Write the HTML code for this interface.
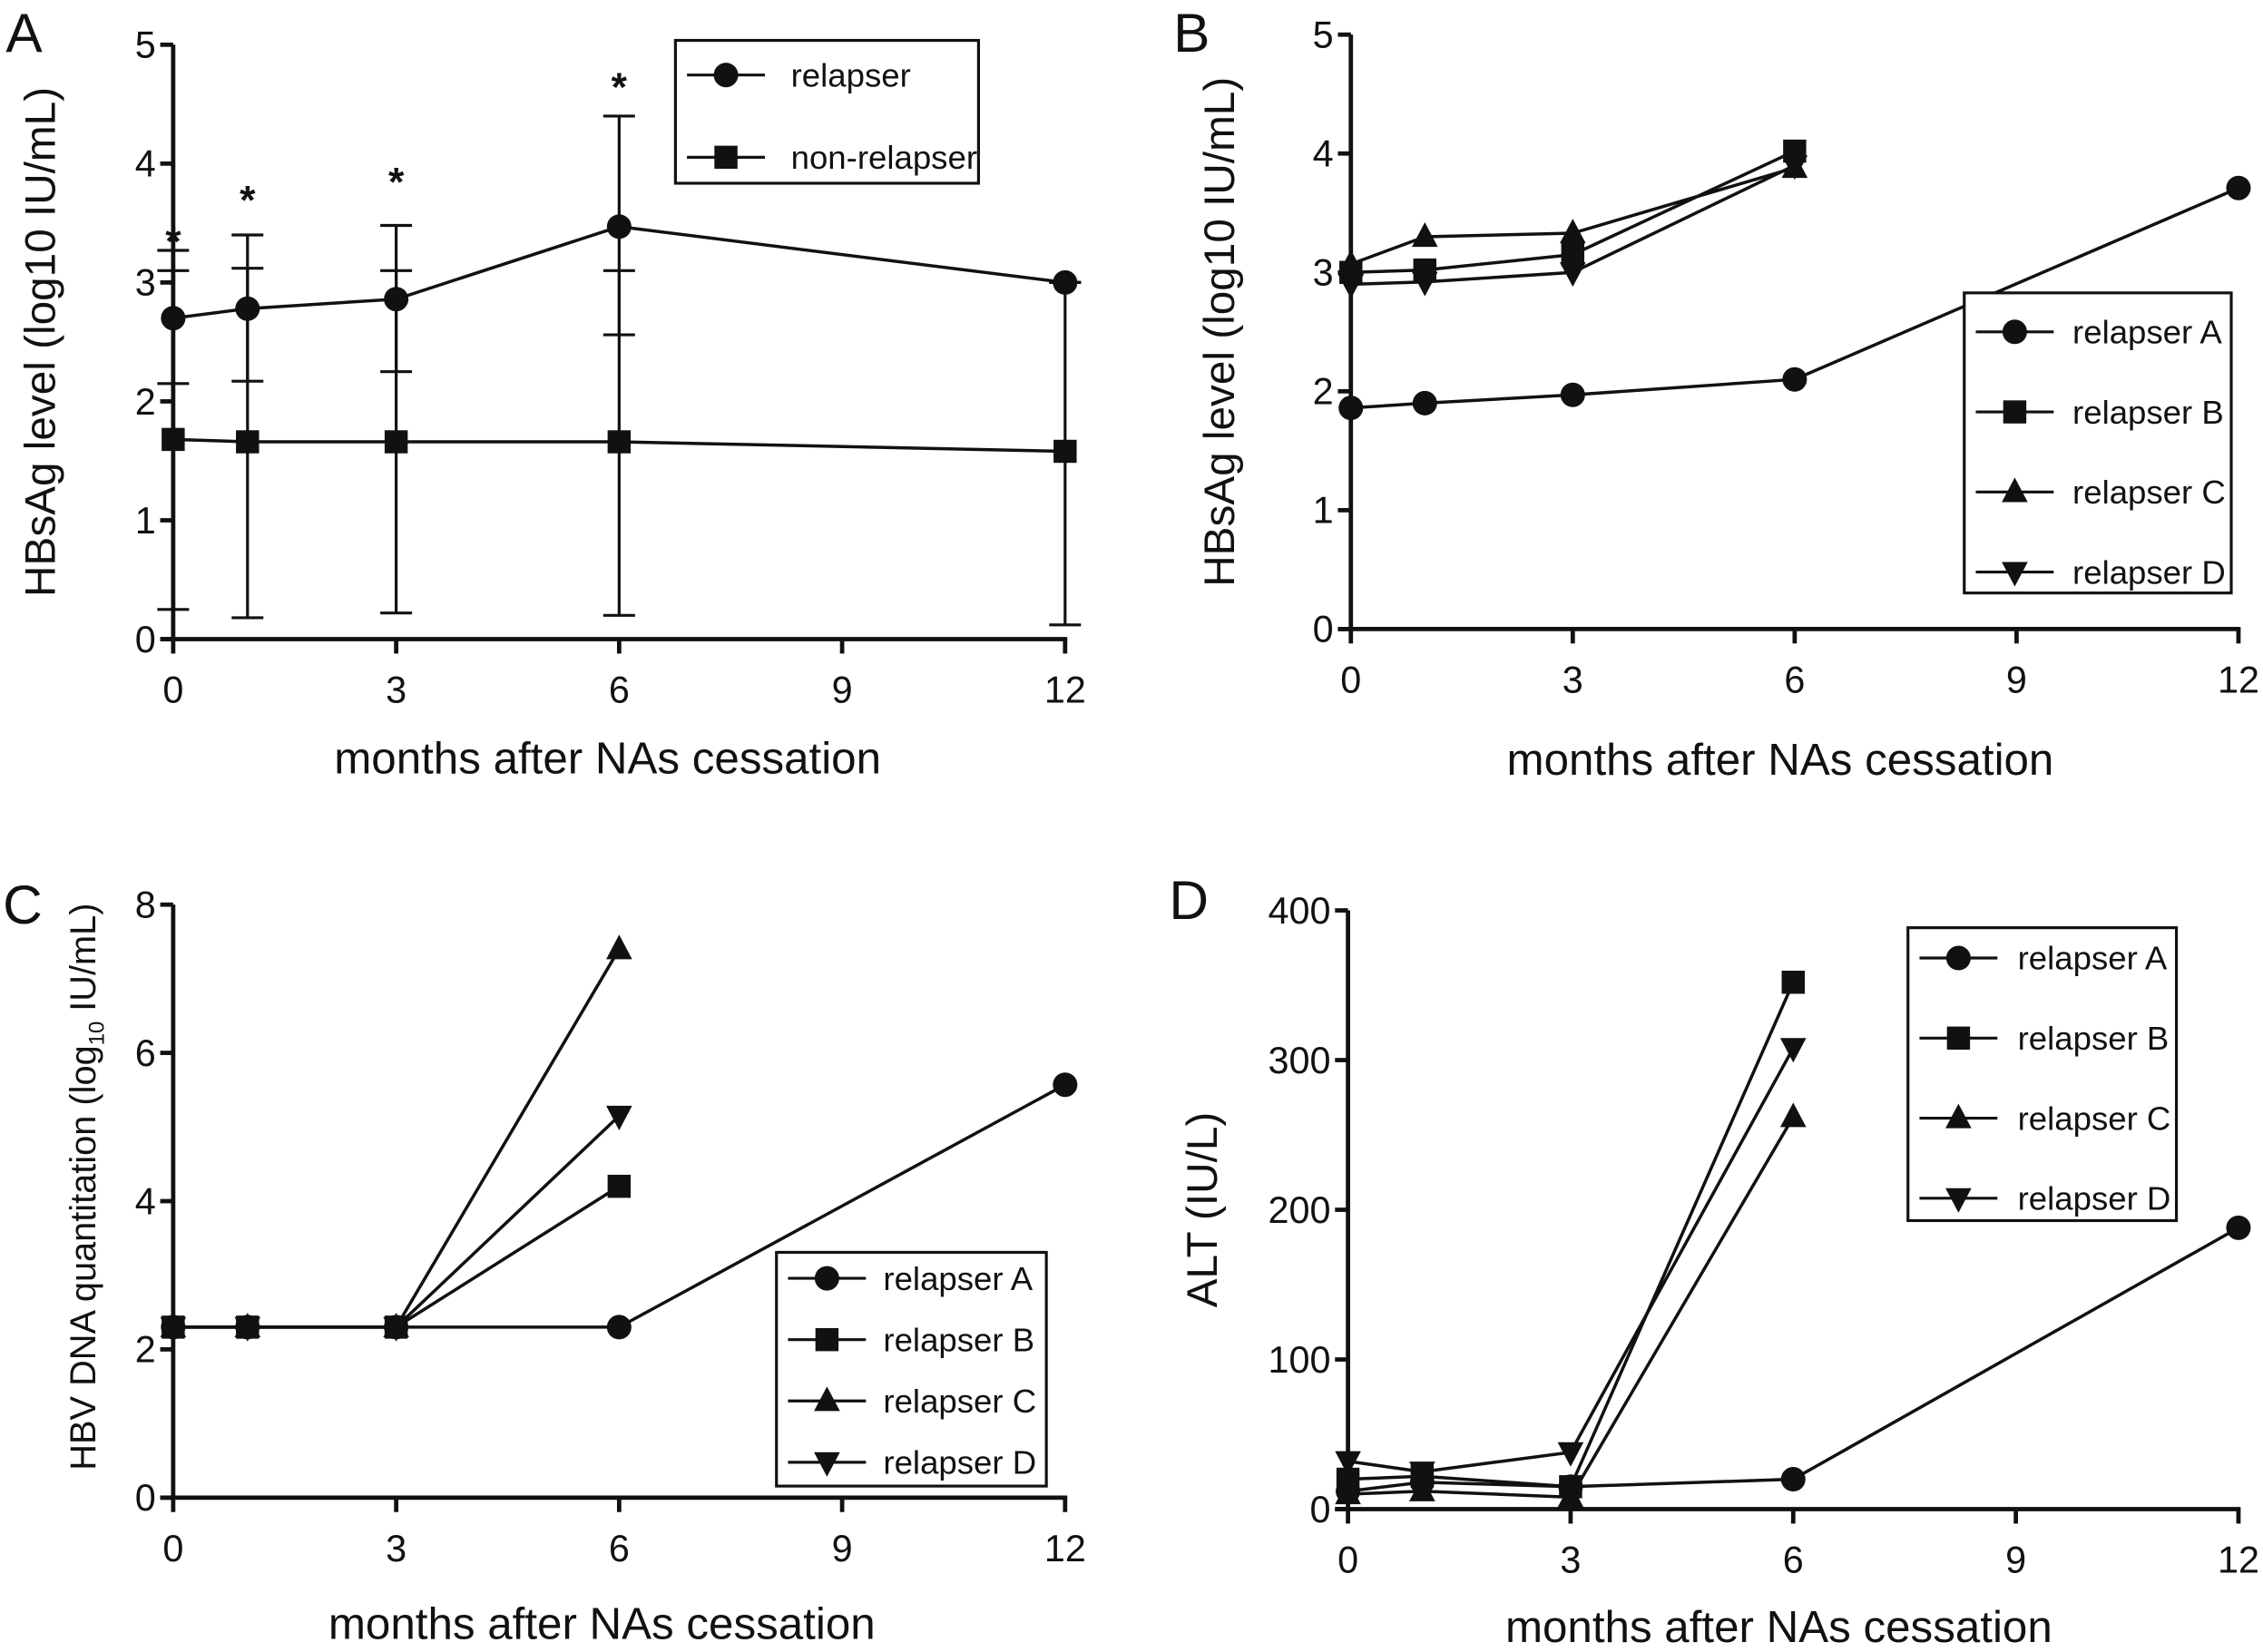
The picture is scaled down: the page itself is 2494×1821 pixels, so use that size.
<!DOCTYPE html>
<html><head><meta charset="utf-8">
<style>
html,body{margin:0;padding:0;background:#fff;}
svg{display:block;}
text{font-family:"Liberation Sans Narrow","Liberation Sans",sans-serif;fill:#111;}
.title{font-family:"Liberation Sans",sans-serif;}
</style></head>
<body>
<svg id="fig" width="2494" height="1821" viewBox="0 0 1568 1145" preserveAspectRatio="none" xmlns="http://www.w3.org/2000/svg"></svg>
<script>
// ---- Data ----
const xTicks = [0,3,6,9,12];
// Panel A
const aMonths = [0,1,3,6,12];
const aRelapser = [2.7,2.78,2.86,3.47,3.0];
const aRelHi = [3.27,3.4,3.48,4.4,3.0];
const aRelLo = [2.15,2.17,2.25,2.56,3.0];
const aNon = [1.68,1.66,1.66,1.66,1.58];
const aNonHi = [3.1,3.12,3.1,3.1,3.0];
const aNonLo = [0.25,0.18,0.22,0.2,0.12];
const aStars = [3.4,3.75,3.9,4.7];
const aTicks = [0,1,2,3,4,5];
// Panel B
const bMonthsA = [0,1,3,6,12];
const bA = [1.86,1.9,1.97,2.1,3.71];
const bMonths = [0,1,3,6];
const bB = [3.0,3.02,3.15,4.02];
const bC = [3.07,3.3,3.33,3.88];
const bD = [2.9,2.92,3.0,3.9];
const bTicks = [0,1,2,3,4,5];
// Panel C
const cMonthsA = [0,1,3,6,12];
const cA = [2.3,2.3,2.3,2.3,5.57];
const cMonths = [0,1,3,6];
const cB = [2.3,2.3,2.3,4.2];
const cC = [2.3,2.3,2.3,7.4];
const cD = [2.3,2.3,2.3,5.15];
const cTicks = [0,2,4,6,8];
// Panel D
const dMonthsA = [0,1,3,6,12];
const dA = [12,18,15,20,188];
const dMonths = [0,1,3,6];
const dB = [20,22,15,352];
const dC = [10,12,8,262];
const dD = [32,25,38,308];
const dTicks = [0,100,200,300,400];

const NS="http://www.w3.org/2000/svg";
const svg=document.getElementById('fig');
function el(tag,attrs,parent){const e=document.createElementNS(NS,tag);for(const k in attrs)e.setAttribute(k,attrs[k]);(parent||svg).appendChild(e);return e;}

function makeAxes(p){
  p.sx=v=>p.x0+(v-0)*(p.x12-p.x0)/12;
  p.sy=v=>p.y0-(v-p.ymin)*(p.y0-p.ytop)/(p.ymax-p.ymin);
  const g=el('g',{});
  
  
  el('line',{x1:p.x0,y1:p.y0,x2:p.x0,y2:p.ytop,stroke:'#111','stroke-width':3},g);
  el('line',{x1:p.x0-9,y1:p.y0,x2:p.x12+1.5,y2:p.y0,stroke:'#111','stroke-width':3},g);
  p.yt.forEach(v=>{
    el('line',{x1:p.x0-9,y1:p.sy(v),x2:p.x0,y2:p.sy(v),stroke:'#111','stroke-width':3},g);
    const t=el('text',{x:p.x0-12,y:p.sy(v)+9,'font-size':26,'text-anchor':'end'},g);t.textContent=v;
    
    
  });
  xTicks.forEach(v=>{
    el('line',{x1:p.sx(v),y1:p.y0,x2:p.sx(v),y2:p.y0+10,stroke:'#111','stroke-width':3},g);
    const t=el('text',{x:p.sx(v),y:p.y0+44,'font-size':26,'text-anchor':'middle'},g);t.textContent=v;
    
    
  });
  const xt=el('text',{x:(p.x0+p.x12)/2+p.xto,y:p.y0+p.xty,'font-size':31,'text-anchor':'middle'},g);
  xt.textContent='months after NAs cessation';
  
  
  const yt=el('text',{x:0,y:0,'font-size':p.ytf||30,'text-anchor':'middle',class:'title',transform:`translate(${p.ytx},${(p.y0+p.ytop)/2+(p.yto||0)}) rotate(-90)`},g);
  if(p.ytitleHtml){yt.innerHTML=p.ytitleHtml;}else yt.textContent=p.ytitle;
  
  
  const L=el('text',{x:p.lx,y:p.ly,'font-size':38,class:'title'},g);L.textContent=p.letter;
  
  
}
function marker(type,x,y,g){
  let m;
  if(type==='circle') m=el('circle',{cx:x,cy:y,r:8.5,fill:'#111'},g);
  else if(type==='square') m=el('rect',{x:x-8,y:y-8,width:16,height:16,fill:'#111'},g);
  else if(type==='up') m=el('polygon',{points:`${x},${y-10} ${x-9},${y+7} ${x+9},${y+7}`,fill:'#111'},g);
  else m=el('polygon',{points:`${x},${y+10} ${x-9},${y-7} ${x+9},${y-7}`,fill:'#111'},g);
  
  
}
function series(p,xs,ys,type,name){
  const g=el('g',{});
  
  
  el('polyline',{points:xs.map((x,i)=>p.sx(x)+','+p.sy(ys[i])).join(' '),fill:'none',stroke:'#111','stroke-width':2.2},g);
  xs.forEach((x,i)=>marker(type,p.sx(x),p.sy(ys[i]),g));
}
function legend(p,box,items,gap,tx){
  const g=el('g',{});
  
  
  el('rect',{x:box[0],y:box[1],width:box[2]-box[0],height:box[3]-box[1],fill:'#fff',stroke:'#111','stroke-width':2},g);
  items.forEach((it,i)=>{
    const y=box[1]+box[4]+i*gap;
    const e=el('g',{},g);
    
    
    el('line',{x1:box[0]+8,y1:y,x2:box[0]+62,y2:y,stroke:'#111','stroke-width':2},e);
    marker(it[0],box[0]+35,y,e);
    const t=el('text',{x:box[0]+tx,y:y+8,'font-size':23},e);t.textContent=it[1];
  });
}

// Panel A
const pA={id:'panel-a',x0:120,x12:738,y0:443,ytop:31,ymin:0,ymax:5,yt:aTicks,ytitle:'HBsAg level (log10 IU/mL)',ytx:38,lx:4,ly:36,letter:'A',xto:-8,xty:93};
makeAxes(pA);
const eg=el('g',{});


aMonths.forEach((m,i)=>{
  const x=pA.sx(m);
  [[aRelHi[i],aRelLo[i]],[aNonHi[i],aNonLo[i]]].forEach(([hi,lo])=>{
    el('line',{x1:x,y1:pA.sy(hi),x2:x,y2:pA.sy(lo),stroke:'#111','stroke-width':2},eg);
    [hi,lo].forEach(v=>el('line',{x1:x-11,y1:pA.sy(v),x2:x+11,y2:pA.sy(v),stroke:'#111','stroke-width':2},eg));
  });
});
series(pA,aMonths,aNon,'square','non-relapser');
series(pA,aMonths,aRelapser,'circle','relapser');
aStars.forEach((v,i)=>{const t=el('text',{x:pA.sx(aMonths[i]),y:pA.sy(v)+14,'font-size':28,'text-anchor':'middle','font-weight':'bold'});t.textContent='*';
  
  });
legend(pA,[468,28,678,127,24],[['circle','relapser'],['square','non-relapser']],57,80);

// Panel B
const pB={id:'panel-b',x0:936,x12:1551,y0:436,ytop:24,ymin:0,ymax:5,yt:bTicks,ytitle:'HBsAg level (log10 IU/mL)',ytx:855,lx:813,ly:36,letter:'B',xto:-10,xty:101};
makeAxes(pB);
series(pB,bMonthsA,bA,'circle','relapser-a');
series(pB,bMonths,bB,'square','relapser-b');
series(pB,bMonths,bC,'up','relapser-c');
series(pB,bMonths,bD,'down','relapser-d');
legend(pB,[1361,203,1546,411,27],[['circle','relapser A'],['square','relapser B'],['up','relapser C'],['down','relapser D']],55.5,75);

// Panel C
const pC={id:'panel-c',x0:120,x12:738,y0:1038,ytop:627,ymin:0,ymax:8,yt:cTicks,ytitle:'',ytitleHtml:'HBV DNA quantitation (log<tspan font-size="15" dy="6">10</tspan><tspan dy="-6"> IU/mL)</tspan>',ytf:25,ytx:66,yto:-10,lx:2,ly:640,letter:'C',xto:-12,xty:98};
makeAxes(pC);
series(pC,cMonthsA,cA,'circle','relapser-a');
series(pC,cMonths,cB,'square','relapser-b');
series(pC,cMonths,cC,'up','relapser-c');
series(pC,cMonths,cD,'down','relapser-d');
legend(pC,[538,868,725,1030,18],[['circle','relapser A'],['square','relapser B'],['up','relapser C'],['down','relapser D']],42.5,74);

// Panel D
const pD={id:'panel-d',x0:934,x12:1551,y0:1046,ytop:631,ymin:0,ymax:400,yt:dTicks,ytitle:'ALT (IU/L)',ytx:843,lx:810,ly:637,letter:'D',xto:-10,xty:92};
makeAxes(pD);
series(pD,dMonthsA,dA,'circle','relapser-a');
series(pD,dMonths,dB,'square','relapser-b');
series(pD,dMonths,dC,'up','relapser-c');
series(pD,dMonths,dD,'down','relapser-d');
legend(pD,[1322,643,1508,846,21],[['circle','relapser A'],['square','relapser B'],['up','relapser C'],['down','relapser D']],55.5,76);
</script>
</body></html>
